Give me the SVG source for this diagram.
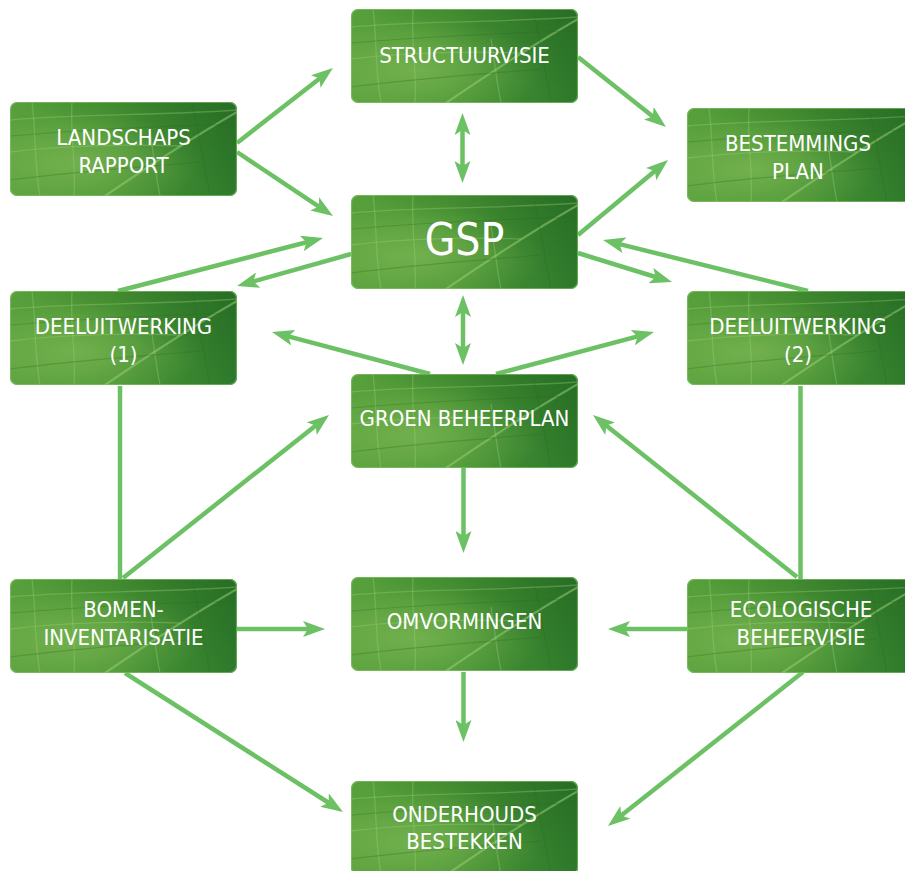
<svg xmlns="http://www.w3.org/2000/svg" xmlns:xlink="http://www.w3.org/1999/xlink" width="905" height="871" viewBox="0 0 905 871">
<defs>
<style>
.lbl{font-family:"DejaVu Sans Condensed","DejaVu Sans","Liberation Sans",sans-serif;font-stretch:condensed;font-size:22px;fill:#ffffff;text-anchor:middle}
.big{font-size:44px}
.con{stroke:#6cc164;stroke-width:4.5;fill:none;stroke-linecap:butt}
.vein{stroke:#9ed27c;stroke-width:1.3;fill:none;opacity:0.35}
.vein2{stroke:#2a6a22;stroke-width:1.2;fill:none;opacity:0.3}
</style>
<linearGradient id="gBase" x1="0" y1="0" x2="1" y2="0">
<stop offset="0" stop-color="#58a03c"/>
<stop offset="0.45" stop-color="#4b9635"/>
<stop offset="1" stop-color="#2d792b"/>
</linearGradient>
<radialGradient id="gLight" cx="0.3" cy="0.65" r="0.55">
<stop offset="0" stop-color="#a6d26e" stop-opacity="0.4"/>
<stop offset="1" stop-color="#a6d26e" stop-opacity="0"/>
</radialGradient>
<linearGradient id="gDark" x1="0" y1="1" x2="1" y2="0">
<stop offset="0.5" stop-color="#1f5f1d" stop-opacity="0"/>
<stop offset="1" stop-color="#1f5f1d" stop-opacity="0.45"/>
</linearGradient>
<clipPath id="clipBox"><rect x="0" y="0" width="227" height="94" rx="7" ry="7"/></clipPath>
<symbol id="leaf" width="227" height="94" viewBox="0 0 227 94" overflow="visible">
<g clip-path="url(#clipBox)">
<rect x="0" y="0" width="227" height="94" fill="url(#gBase)"/>
<rect x="0" y="0" width="227" height="94" fill="url(#gLight)"/>
<rect x="0" y="0" width="227" height="94" fill="url(#gDark)"/>
<path class="vein" d="M0,18 C60,12 140,14 227,8"/>
<path class="vein" d="M0,50 C50,44 110,42 170,44"/>
<path class="vein" d="M95,94 C130,70 175,40 227,10" style="stroke-width:2.2;opacity:0.5"/>
<path class="vein" d="M22,0 C26,30 24,60 30,94 M62,0 C60,35 66,60 64,94 M140,30 C144,55 146,75 150,94"/>
<path class="vein2" d="M0,34 C70,28 150,24 227,22 M0,78 C60,70 120,66 190,60"/>
<path class="vein2" d="M182,0 C188,30 194,60 200,94"/>
<rect x="0.5" y="0.5" width="226" height="93" rx="7" ry="7" fill="none" stroke="#86c86a" stroke-width="1.2" opacity="0.6"/>
</g>
</symbol>
<marker id="ah" markerUnits="userSpaceOnUse" markerWidth="22" markerHeight="16" viewBox="0 0 22 16" refX="10" refY="8" orient="auto-start-reverse">
<path d="M0,0 L22,8 L0,16 L5,8 Z" fill="#6cc164"/>
</marker>
</defs>
<rect x="0" y="0" width="905" height="871" fill="#ffffff"/>

<g id="connectors">
<line class="con" x1="237" y1="143" x2="323.5" y2="75.4" marker-end="url(#ah)"/>
<line class="con" x1="237" y1="152" x2="323" y2="209.4" marker-end="url(#ah)"/>
<line class="con" x1="578" y1="57" x2="656.6" y2="119.5" marker-end="url(#ah)"/>
<line class="con" x1="578" y1="235" x2="658.8" y2="167.7" marker-end="url(#ah)"/>
<line class="con" x1="462.5" y1="125" x2="462.5" y2="171" marker-start="url(#ah)" marker-end="url(#ah)"/>
<line class="con" x1="118" y1="291" x2="311.4" y2="241" marker-end="url(#ah)"/>
<line class="con" x1="351" y1="254" x2="248.6" y2="282.8" marker-end="url(#ah)"/>
<line class="con" x1="808" y1="291" x2="614.7" y2="242.9" marker-end="url(#ah)"/>
<line class="con" x1="578" y1="253" x2="660.5" y2="278.5" marker-end="url(#ah)"/>
<line class="con" x1="463" y1="307" x2="463" y2="353" marker-start="url(#ah)" marker-end="url(#ah)"/>
<line class="con" x1="430" y1="374" x2="283.6" y2="335.1" marker-end="url(#ah)"/>
<line class="con" x1="496" y1="374" x2="642.4" y2="335.1" marker-end="url(#ah)"/>
<line class="con" x1="120" y1="386" x2="120" y2="579"/>
<line class="con" x1="800.5" y1="386" x2="800.5" y2="579"/>
<line class="con" x1="123" y1="578" x2="319.6" y2="422.4" marker-end="url(#ah)"/>
<line class="con" x1="797" y1="577" x2="602.4" y2="422.5" marker-end="url(#ah)"/>
<line class="con" x1="463.5" y1="467" x2="463.5" y2="541" marker-end="url(#ah)"/>
<line class="con" x1="237" y1="629" x2="313" y2="629" marker-end="url(#ah)"/>
<line class="con" x1="687" y1="629" x2="620" y2="629" marker-end="url(#ah)"/>
<line class="con" x1="463.5" y1="672" x2="463.5" y2="730" marker-end="url(#ah)"/>
<line class="con" x1="125" y1="673" x2="332.9" y2="805.5" marker-end="url(#ah)"/>
<line class="con" x1="803" y1="672" x2="617.4" y2="818.6" marker-end="url(#ah)"/>
</g>

<g id="structuurvisie">
<use xlink:href="#leaf" x="351" y="9" width="227" height="94"/>
<text class="lbl" x="464.5" y="63">STRUCTUURVISIE</text>
</g>
<g id="landschaps">
<use xlink:href="#leaf" x="10" y="102" width="227" height="94"/>
<text class="lbl" x="123.5" y="145">LANDSCHAPS</text>
<text class="lbl" x="123.5" y="173">RAPPORT</text>
</g>
<g id="bestemmings">
<use xlink:href="#leaf" x="687" y="108" width="227" height="94"/>
<text class="lbl" x="798" y="151">BESTEMMINGS</text>
<text class="lbl" x="798" y="179">PLAN</text>
</g>
<g id="gsp">
<use xlink:href="#leaf" x="351" y="195" width="227" height="94"/>
<text class="lbl big" x="464.5" y="255">GSP</text>
</g>
<g id="deel1">
<use xlink:href="#leaf" x="10" y="291" width="227" height="94"/>
<text class="lbl" x="123.5" y="334">DEELUITWERKING</text>
<text class="lbl" x="123.5" y="362">(1)</text>
</g>
<g id="deel2">
<use xlink:href="#leaf" x="687" y="291" width="227" height="94"/>
<text class="lbl" x="798" y="334">DEELUITWERKING</text>
<text class="lbl" x="798" y="362">(2)</text>
</g>
<g id="groen">
<use xlink:href="#leaf" x="351" y="374" width="227" height="94"/>
<text class="lbl" x="464.5" y="426">GROEN BEHEERPLAN</text>
</g>
<g id="bomen">
<use xlink:href="#leaf" x="10" y="579" width="227" height="94"/>
<text class="lbl" x="123.5" y="617">BOMEN-</text>
<text class="lbl" x="123.5" y="645">INVENTARISATIE</text>
</g>
<g id="omvormingen">
<use xlink:href="#leaf" x="351" y="577" width="227" height="94"/>
<text class="lbl" x="464.5" y="629">OMVORMINGEN</text>
</g>
<g id="ecologische">
<use xlink:href="#leaf" x="687" y="579" width="227" height="94"/>
<text class="lbl" x="801" y="617">ECOLOGISCHE</text>
<text class="lbl" x="801" y="645">BEHEERVISIE</text>
</g>
<g id="onderhouds">
<use xlink:href="#leaf" x="351" y="781" width="227" height="94"/>
<text class="lbl" x="464.5" y="822">ONDERHOUDS</text>
<text class="lbl" x="464.5" y="849">BESTEKKEN</text>
</g>
</svg>
